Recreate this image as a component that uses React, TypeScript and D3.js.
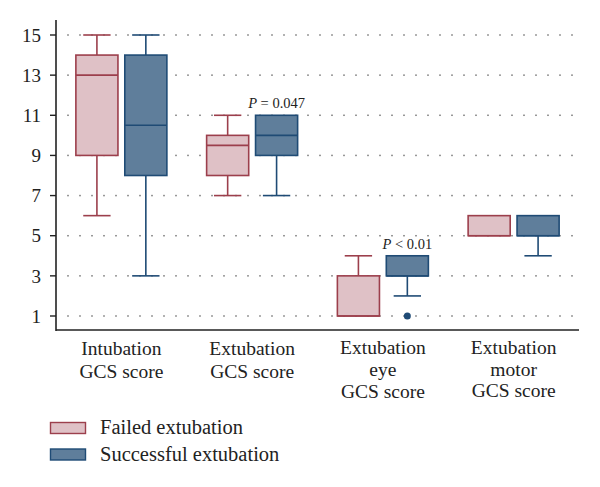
import React from "react";
import * as d3 from "d3";

const categories = [
  ["Intubation", "GCS score"],
  ["Extubation", "GCS score"],
  ["Extubation", "eye", "GCS score"],
  ["Extubation", "motor", "GCS score"],
];
const seriesNames = ["Failed extubation", "Successful extubation"];
// [min, q1, median, q3, max]
const failedStats = [
  [6, 9, 13, 14, 15],
  [7, 8, 9.5, 10, 11],
  [1, 1, 1, 3, 4],
  [5, 5, 5, 6, 6],
];
const successStats = [
  [3, 8, 10.5, 14, 15],
  [7, 9, 10, 11, 11],
  [2, 3, 3, 4, 4],
  [4, 5, 5, 6, 6],
];
const successOutliers = [[], [], [1], []];
const annotations = [
  { group: 1, series: 1, value: 11, text: ["P", " = 0.047"] },
  { group: 2, series: 1, value: 4, text: ["P", " < 0.01"] },
];
const yTicks = [1, 3, 5, 7, 9, 11, 13, 15];

const fills = ["#dfc1c6", "#5f7e9b"];
const strokes = ["#9c3f4c", "#1f4b75"];
const FONT = "'Liberation Serif', 'DejaVu Serif', serif";

export default function App() {
  const W = 600, H = 487;
  const x0 = 56, x1 = 579;
  const yAxisBottom = 330;
  const y = d3.scaleLinear().domain([1, 15]).range([316, 35]);
  const xb = d3.scaleBand<number>().domain([0, 1, 2, 3]).range([x0, x1]);
  const xs = d3.scaleBand<number>().domain([0, 1]).range([0, 91]).paddingInner(0.14);
  const boxW = xs.bandwidth();
  const capW = boxW * 0.65;
  const groupLeft = (g: number) => xb(g)! + xb.bandwidth() / 2 - 45.5;

  const dots: number[] = d3.range(68, 576, 12);

  const renderBox = (stats: number[], g: number, s: number) => {
    const [mn, q1, md, q3, mx] = stats;
    const bx = groupLeft(g) + xs(s)!;
    const cx = bx + boxW / 2;
    const st = strokes[s];
    return (
      <g key={`b${g}-${s}`}>
        {mx > q3 && (
          <>
            <line x1={cx} x2={cx} y1={y(q3)} y2={y(mx)} stroke={st} strokeWidth={1.6} />
            <line x1={cx - capW / 2} x2={cx + capW / 2} y1={y(mx)} y2={y(mx)} stroke={st} strokeWidth={1.6} />
          </>
        )}
        {mn < q1 && (
          <>
            <line x1={cx} x2={cx} y1={y(q1)} y2={y(mn)} stroke={st} strokeWidth={1.6} />
            <line x1={cx - capW / 2} x2={cx + capW / 2} y1={y(mn)} y2={y(mn)} stroke={st} strokeWidth={1.6} />
          </>
        )}
        <rect x={bx} y={y(q3)} width={boxW} height={y(q1) - y(q3)} fill={fills[s]} stroke={st} strokeWidth={1.6} />
        <line x1={bx} x2={bx + boxW} y1={y(md)} y2={y(md)} stroke={st} strokeWidth={1.6} />
      </g>
    );
  };

  const lineY = (n: number, i: number, g: number) => {
    if (n === 2) return [355, 378][i];
    if (g === 2) return [354, 375.5, 398][i];
    return [354, 375.5, 397][i];
  };

  return (
    <svg width={W} height={H} style={{ position: "absolute", left: 0, top: 0, background: "#fff" }}>
      {yTicks.map((t) => (
        <g key={`g${t}`}>
          {dots.map((dx) => (
            <rect key={dx} x={dx - 0.75} y={y(t) - 0.75} width={1.5} height={1.5} fill="#777" />
          ))}
        </g>
      ))}
      {failedStats.map((st, g) => renderBox(st, g, 0))}
      {successStats.map((st, g) => renderBox(st, g, 1))}
      {successOutliers.map((os, g) =>
        os.map((o, i) => (
          <circle key={`o${g}-${i}`} cx={groupLeft(g) + xs(1)! + boxW / 2} cy={y(o)} r={3.5} fill={strokes[1]} />
        ))
      )}
      {annotations.map((a, i) => (
        <text
          key={`a${i}`}
          x={groupLeft(a.group) + xs(a.series)! + boxW / 2}
          y={y(a.value) - 7}
          textAnchor="middle"
          fontFamily={FONT}
          fontSize={14.5}
          fill="#222"
        >
          <tspan fontStyle="italic">{a.text[0]}</tspan>
          <tspan>{a.text[1]}</tspan>
        </text>
      ))}
      <line x1={x0} x2={x0} y1={20} y2={yAxisBottom + 1} stroke="#222" strokeWidth={1.6} />
      <line x1={x0} x2={x1} y1={yAxisBottom} y2={yAxisBottom} stroke="#222" strokeWidth={1.6} />
      {yTicks.map((t) => (
        <g key={`t${t}`}>
          <line x1={x0 - 6} x2={x0} y1={y(t)} y2={y(t)} stroke="#222" strokeWidth={1.4} />
          <text x={41} y={y(t)} dy="0.35em" textAnchor="end" fontFamily={FONT} fontSize={19} fill="#222">
            {t}
          </text>
        </g>
      ))}
      {categories.map((lines, g) => {
        const cx = xb(g)! + xb.bandwidth() / 2;
        return (
          <text key={`c${g}`} textAnchor="middle" fontFamily={FONT} fontSize={19.5} fill="#222">
            {lines.map((l, i) => (
              <tspan key={i} x={cx} y={lineY(lines.length, i, g)}>
                {l}
              </tspan>
            ))}
          </text>
        );
      })}
      {seriesNames.map((n, i) => (
        <g key={`l${i}`} transform={`translate(0, ${i * 26.5})`}>
          <rect x={50.5} y={422.5} width={35} height={11} fill={fills[i]} stroke={strokes[i]} strokeWidth={1.4} />
          <text x={100} y={434} fontFamily={FONT} fontSize={20.5} fill="#222">
            {n}
          </text>
        </g>
      ))}
    </svg>
  );
}
